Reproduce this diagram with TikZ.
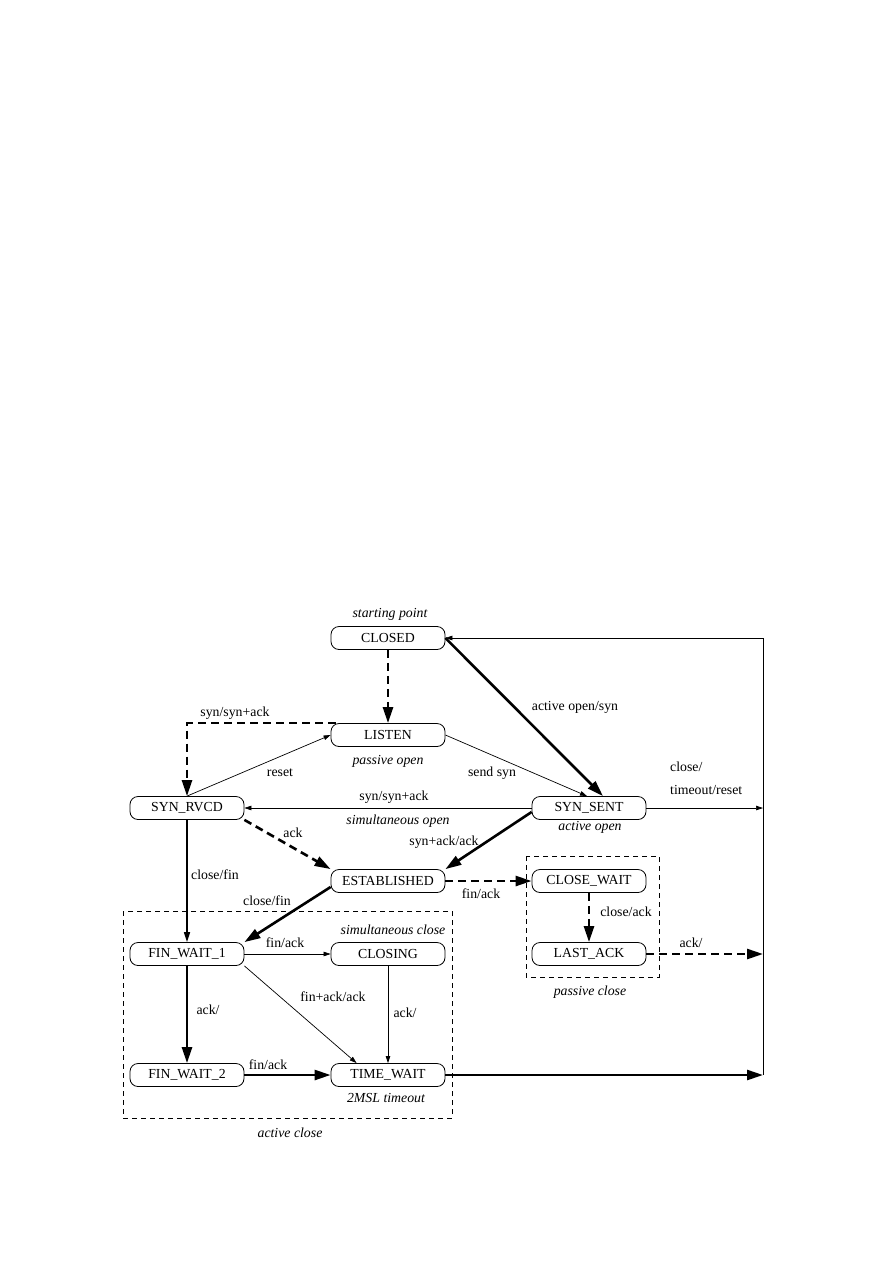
\documentclass[tikz,border=0pt]{standalone}
\usepackage{fontspec}
\setmainfont{Liberation Serif}
\usetikzlibrary{arrows.meta,calc}
\newcommand{\fs}{\fontsize{13.8}{16}\selectfont}
\begin{document}
\begin{tikzpicture}[x=1pt,y=-1pt,
  state/.style={draw, line width=0.8pt, rounded corners=8pt, minimum width=114pt,
    minimum height=23pt, inner sep=0pt, font=\fs},
  lbl/.style={font=\fs, inner sep=0pt},
  ilbl/.style={font=\fs\itshape, inner sep=0pt},
  thinarr/.style={line width=0.7pt, -{Triangle[length=7pt,width=4.5pt]}},
  medarr/.style={line width=1.4pt, -{Triangle[length=10pt,width=6pt]}},
  thickarr/.style={line width=2.6pt, -{Triangle[length=16pt,width=10pt]}},
  dasharr/.style={thickarr, dash pattern=on 8pt off 5pt},
  grpbox/.style={line width=0.7pt, dash pattern=on 5pt off 4pt}
]
\useasboundingbox (0,0) rectangle (893,1263);
\fill[white] (0,0) rectangle (893,1263);

% group boxes
\draw[grpbox] (123,911) rectangle (452,1118);
\draw[grpbox] (526,856) rectangle (659,977);

% states
\node[state] (closed)    at (388,638)  {CLOSED};
\node[state] (listen)    at (388,735)  {LISTEN};
\node[state] (synrvcd)   at (187,808)  {SYN\_RVCD};
\node[state] (synsent)   at (589,808)  {SYN\_SENT};
\node[state] (est)       at (388,881)  {ESTABLISHED};
\node[state] (closewait) at (589,881)  {CLOSE\_WAIT};
\node[state] (finwait1)  at (187,954)  {FIN\_WAIT\_1};
\node[state] (closing)   at (388,954)  {CLOSING};
\node[state] (lastack)   at (589,954)  {LAST\_ACK};
\node[state] (finwait2)  at (187,1075) {FIN\_WAIT\_2};
\node[state] (timewait)  at (388,1075) {TIME\_WAIT};

% right-hand return line
\coordinate (r1) at (763,638);
\coordinate (r2) at (763,808);
\coordinate (r3) at (763,954);
\coordinate (r4) at (763,1075);

% edges
\draw[dasharr] (closed.south) -- (listen.north);
\draw[thickarr] (closed.east) -- ($(synsent.north)+(14,0)$);
\draw[thinarr] (listen.east) -- ($(synsent.north)+(-2,0)$);
\draw[thinarr] (synrvcd.north) -- (listen.west);
\draw[dasharr] ($(listen.north west)+(5,0)$) -| (synrvcd.north);
\draw[thinarr] (synsent.west) -- (synrvcd.east);
\draw[dasharr] (synrvcd.south east) -- (est.north west);
\draw[thickarr] ($(synsent.west)+(0,4)$) -- (est.north east);
\draw[medarr] (synrvcd.south) -- (finwait1.north);
\draw[thickarr] ($(est.west)+(0,6)$) -- (finwait1.north east);
\draw[dasharr] (est.east) -- (closewait.west);
\draw[dasharr] (closewait.south) -- (lastack.north);
\draw[thinarr] (finwait1.east) -- (closing.west);
\draw[thickarr] (finwait1.south) -- (finwait2.north);
\draw[thinarr] (finwait1.south east) -- ($(timewait.north west)+(26,0)$);
\draw[thinarr] (closing.south) -- (timewait.north);
\draw[thickarr] (finwait2.east) -- (timewait.west);
\draw[thinarr] (synsent.east) -- (r2);
\draw[dasharr] (lastack.east) -- (r3);
\draw[thickarr] (timewait.east) -- (r4);
\draw[thinarr] (r4) -- (r1) -- (closed.east);

% labels
\node[ilbl] (lsp) at (390,614) {starting point};
\node[lbl] (l1) at (235,713) {syn/syn+ack};
\node[lbl] (l2) at (575,707) {active open/syn};
\node[lbl] (l3) at (280,773) {reset};
\node[ilbl] (l4) at (388,761) {passive open};
\node[lbl] (l5) at (492,773) {send syn};
\node[lbl,anchor=west] (l6) at (670,767) {close/};
\node[lbl,anchor=west] (l7) at (670,790) {timeout/reset};
\node[lbl] (l8) at (394,797) {syn/syn+ack};
\node[ilbl] (l9) at (398,821) {simultaneous open};
\node[ilbl] (l10) at (590,827) {active open};
\node[lbl] (l11) at (293,833) {ack};
\node[lbl] (l12) at (444,842) {syn+ack/ack};
\node[lbl] (l13) at (215,875) {close/fin};
\node[lbl] (l14) at (267,901) {close/fin};
\node[lbl] (l15) at (481,894) {fin/ack};
\node[lbl] (l16) at (626,912) {close/ack};
\node[ilbl] (l17) at (393,930) {simultaneous close};
\node[lbl] (l18) at (285,943) {fin/ack};
\node[lbl] (l19) at (691,943) {ack/};
\node[ilbl] (l20) at (590,992) {passive close};
\node[lbl] (l21) at (208,1010) {ack/};
\node[lbl] (l22) at (333,997) {fin+ack/ack};
\node[lbl] (l23) at (405,1013) {ack/};
\node[lbl] (l24) at (268,1065) {fin/ack};
\node[ilbl] (l25) at (386,1098) {2MSL timeout};
\node[ilbl] (l26) at (290,1133) {active close};
\end{tikzpicture}
\end{document}
